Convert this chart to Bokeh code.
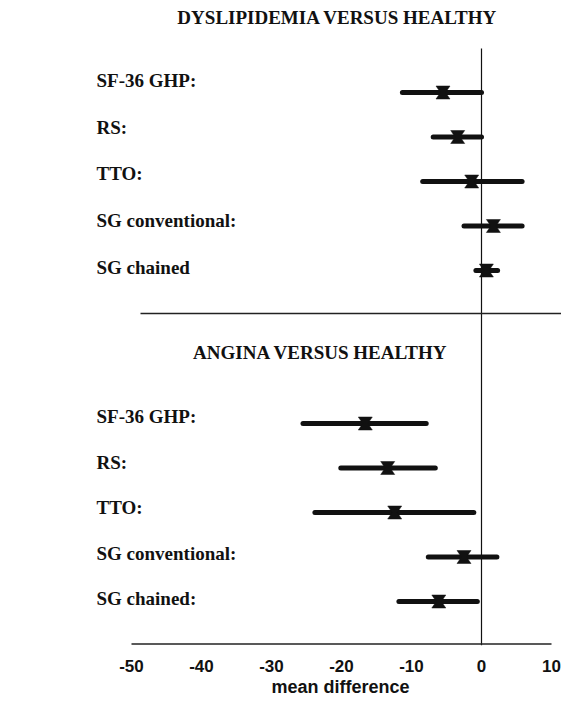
from bokeh.plotting import figure
from bokeh.models import Range1d, FixedTicker, Title, ColumnDataSource
from bokeh.core.properties import value
from bokeh.embed import file_html
from bokeh.resources import INLINE

# ---------------- data ----------------
panel_titles = ["DYSLIPIDEMIA VERSUS HEALTHY", "ANGINA VERSUS HEALTHY"]

dys_labels = ["SF-36 GHP:", "RS:", "TTO:", "SG conventional:", "SG chained"]
dys_mean = [-5.5, -3.4, -1.4, 1.7, 0.7]
dys_low = [-11.3, -6.9, -8.4, -2.5, -0.8]
dys_high = [0.0, 0.0, 5.8, 5.8, 2.3]

ang_labels = ["SF-36 GHP:", "RS:", "TTO:", "SG conventional:", "SG chained:"]
ang_mean = [-16.6, -13.4, -12.4, -2.5, -6.1]
ang_low = [-25.5, -20.1, -23.8, -7.6, -11.8]
ang_high = [-7.9, -6.6, -1.1, 2.2, -0.6]

x_ticks = [-50, -40, -30, -20, -10, 0, 10]
x_tick_labels = ["-50", "-40", "-30", "-20", "-10", "0", "10"]
x_label = "mean difference"

# ---------------- layout ----------------
PX_PER_UNIT = 7.0
ZERO_PX = 481.0          # canvas x of zero
FRAME_W = 561
FRAME_H = 645
x_start = -ZERO_PX / PX_PER_UNIT
x_end = (FRAME_W - ZERO_PX) / PX_PER_UNIT

def px(canvas_x):
    return (canvas_x - ZERO_PX) / PX_PER_UNIT

# vertical positions (canvas pixels == data units on y)
dys_bar_y = [92 + 44.5 * i for i in range(5)]
dys_lab_y = [80 + 46.7 * i for i in range(5)]
ang_bar_y = [423 + 44.5 * i for i in range(5)]
ang_lab_y = [416 + 45.5 * i for i in range(5)]

p = figure(frame_width=FRAME_W, frame_height=FRAME_H,
           x_range=Range1d(x_start, x_end), y_range=Range1d(FRAME_H, 0),
           output_backend="svg", toolbar_location=None,
           y_axis_location=None, x_axis_location="below",
           min_border=0, min_border_left=0, min_border_right=0,
           min_border_top=0, min_border_bottom=0,
           background_fill_color="white", border_fill_color="white")
p.outline_line_color = None
p.grid.visible = False

ink = "#111111"
serif = value("Liberation Serif")
bottom_y = FRAME_H - 1.5

# reference lines
p.segment(x0=[0], y0=[48], x1=[0], y1=[FRAME_H], line_color=ink, line_width=1.2)
p.segment(x0=[px(140)], y0=[313], x1=[x_end], y1=[313], line_color="#222222", line_width=1.5)
p.segment(x0=[x_ticks[0]], y0=[bottom_y], x1=[x_ticks[-1]], y1=[bottom_y],
          line_color="#222222", line_width=1.5)

W = 1.0    # marker half width (data units)
N = 0.36   # marker waist half width
H = 6.5    # marker half height (px)

for labels, mean, low, high, bar_y, lab_y in [
        (dys_labels, dys_mean, dys_low, dys_high, dys_bar_y, dys_lab_y),
        (ang_labels, ang_mean, ang_low, ang_high, ang_bar_y, ang_lab_y)]:
    src = ColumnDataSource(dict(low=low, high=high, y=bar_y))
    p.segment(x0="low", y0="y", x1="high", y1="y", source=src,
              line_color=ink, line_width=5, line_cap="round")
    xs = [[m - W, m + W, m + N, m + W, m - W, m - N] for m in mean]
    ys = [[y - H, y - H, y, y + H, y + H, y] for y in bar_y]
    p.patches(xs=xs, ys=ys, fill_color=ink, line_color=ink, line_width=0.5)
    p.text(x=[px(96)] * len(labels), y=lab_y, text=labels,
           text_font=serif, text_font_style="bold", text_font_size="19px",
           text_align="left", text_baseline="middle", text_color=ink)

p.text(x=[px(337), px(320)], y=[16.5, 352], text=panel_titles,
       text_font=serif, text_font_style="bold", text_font_size="19px",
       text_align="center", text_baseline="middle", text_color=ink)

ax = p.xaxis[0]
ax.ticker = FixedTicker(ticks=x_ticks)
ax.major_label_overrides = {t: s for t, s in zip(x_ticks, x_tick_labels)}
ax.axis_line_color = None
ax.major_tick_line_color = None
ax.minor_tick_line_color = None
ax.major_label_standoff = 8
ax.major_label_text_font = "Liberation Sans"
ax.major_label_text_font_style = "bold"
ax.major_label_text_font_size = "17px"
ax.major_label_text_color = ink

t = Title(text=x_label, align="left", offset=271, standoff=0,
          text_font="Liberation Sans", text_font_style="bold",
          text_font_size="18px", text_color=ink)
p.add_layout(t, "below")

open("out.html", "w").write(file_html(p, INLINE))
